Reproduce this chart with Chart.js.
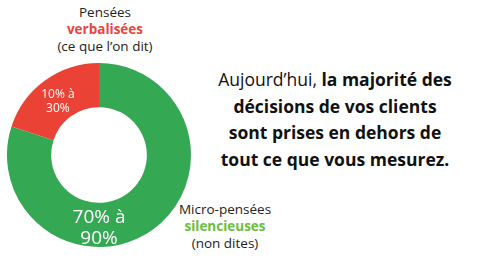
<!DOCTYPE html>
<html>
<head>
<meta charset="utf-8">
<script src="https://cdn.jsdelivr.net/npm/chart.js@4"></script>
<style>
  html, body { margin: 0; padding: 0; background: #fff; }
  body { width: 500px; height: 259px; position: relative; overflow: hidden; font-family: "Open Sans", sans-serif; color: #222; }
  #chartBox { position: absolute; left: 7px; top: 63px; width: 184px; height: 184px; }
  .note { position: absolute; text-align: center; font-size: 13.5px; line-height: 17px; }
  #topNote { left: 45px; top: 4px; width: 120px; }
  #bottomNote { left: 165px; top: 201px; width: 120px; }
  .red { color: #e8453c; font-weight: 700; }
  .green { color: #6cbd3d; font-weight: 700; }
  #headline { position: absolute; left: 195px; top: 66px; width: 280px; text-align: center; font-size: 17.5px; line-height: 26.5px; color: #111; white-space: nowrap; }
  #headline b { font-weight: 700; }
</style>
</head>
<body>
<div id="topNote" class="note">Pensées<br><span class="red">verbalisées</span><br>(ce que l’on dit)</div>
<div id="bottomNote" class="note">Micro-pensées<br><span class="green">silencieuses</span><br>(non dites)</div>
<div id="headline">Aujourd’hui, <b>la majorité des<br>décisions de vos clients<br>sont prises en dehors de<br>tout ce que vous mesurez.</b></div>
<div id="chartBox"><canvas id="donut"></canvas></div>
<script>
// share of thoughts (midpoint of each range)
const categories = ['Micro-pensées silencieuses', 'Pensées verbalisées'];
const shares = [80, 20];
const sliceLabels = [['70% à', '90%'], ['10% à', '30%']];
const sliceColors = ['#34a853', '#ea4335'];

// write the range inside each slice
const sliceText = {
    id: 'sliceText',
    afterDatasetsDraw(chart) {
        const ctx = chart.ctx;
        const arcs = chart.getDatasetMeta(0).data;
        ctx.save();
        ctx.fillStyle = '#fff';
        ctx.textAlign = 'center';
        ctx.textBaseline = 'middle';
        arcs.forEach((arc, i) => {
            const p = arc.getProps(['x', 'y', 'innerRadius', 'outerRadius']);
            const mid = (p.innerRadius + p.outerRadius) / 2;
            let x, y, size, gap;
            if (i === 0) {
                // big label sits at the bottom of the ring
                x = p.x;
                y = p.y + mid + 3;
                size = 19;
                gap = 21;
            } else {
                const c = arc.tooltipPosition();
                x = c.x;
                y = c.y + 3;
                size = 12;
                gap = 14;
            }
            ctx.font = `${size}px "Open Sans", sans-serif`;
            ctx.fillText(sliceLabels[i][0], x, y - gap / 2);
            ctx.fillText(sliceLabels[i][1], x, y + gap / 2);
        });
        ctx.restore();
    }
};

new Chart(document.getElementById('donut'), {
    type: 'doughnut',
    data: {
        labels: categories,
        datasets: [{
            data: shares,
            backgroundColor: sliceColors,
            borderWidth: 0
        }]
    },
    options: {
        responsive: true,
        maintainAspectRatio: false,
        animation: false,
        cutout: '52%',
        layout: { padding: 0 },
        plugins: {
            legend: { display: false },
            tooltip: { enabled: false }
        }
    },
    plugins: [sliceText]
});
</script>
</body>
</html>
